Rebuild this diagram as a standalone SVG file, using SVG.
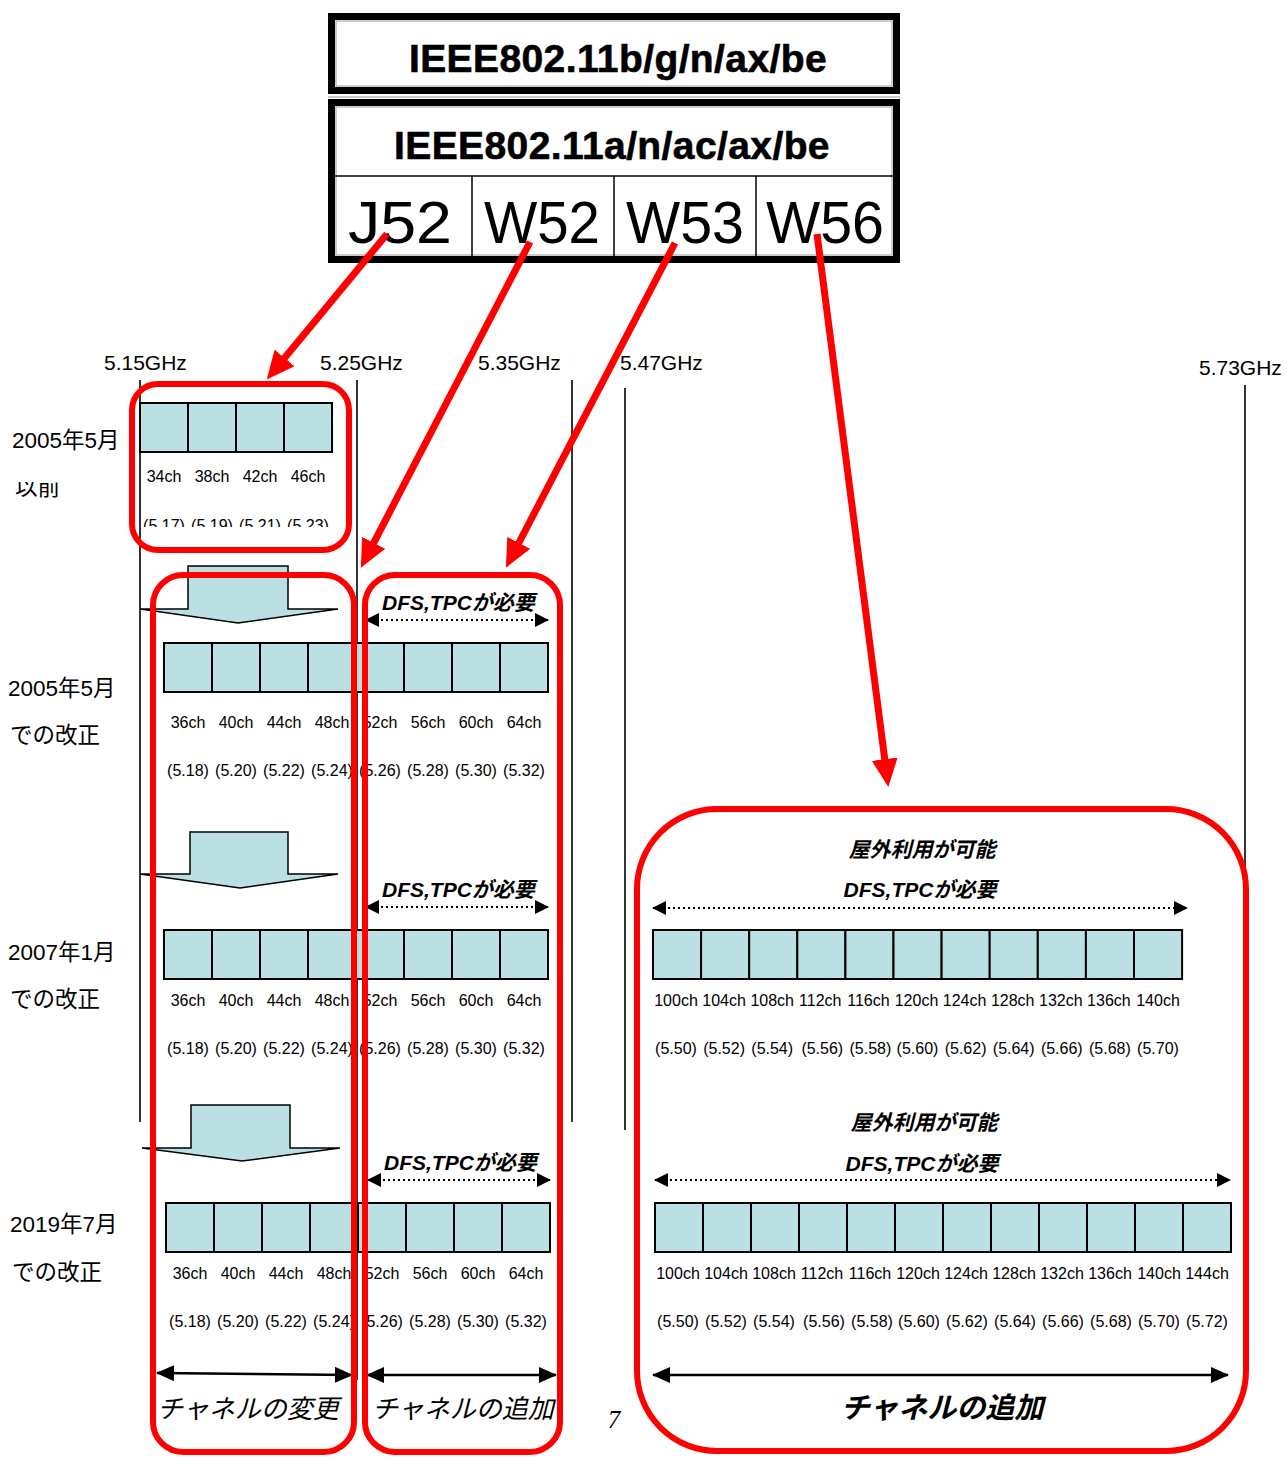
<svg xmlns="http://www.w3.org/2000/svg" width="1287" height="1457" viewBox="0 0 1287 1457">
<style>
text{font-family:"Liberation Sans","Noto Sans CJK JP",sans-serif;fill:#000}
.hd{font-size:39px;font-weight:bold;text-anchor:middle;stroke:#000;stroke-width:0.6;letter-spacing:0.4px}
.band{font-size:60px}
.ghz{font-size:21px}
.lbl{font-size:22.5px}
.ch{font-size:16px;text-anchor:middle}
.dfs{font-size:21px;font-weight:bold;font-style:italic}
.dfsc{font-size:21px;font-weight:bold;font-style:italic;text-anchor:middle}
.big{font-size:26px;font-style:italic}
.bigb{font-size:29px;font-weight:bold;font-style:italic;text-anchor:middle}
.box{fill:#bae0e3;stroke:#000;stroke-width:2}
.blk{fill:#bae0e3;stroke:#000;stroke-width:1.5}
.vl{stroke:#000;stroke-width:1.6;fill:none}
.dot{stroke:#000;stroke-width:2;stroke-dasharray:2 3;fill:none}
.sol{stroke:#000;stroke-width:2.5;fill:none}
.red{fill:none;stroke:#ff0000;stroke-width:6}
.rarr{stroke:#ff0000;stroke-width:7;fill:none}
</style>
<defs>
<marker id="ah" markerUnits="userSpaceOnUse" markerWidth="14" markerHeight="14" refX="13" refY="7" orient="auto-start-reverse"><path d="M0,0 L14,7 L0,14 z" fill="#000"/></marker>
<marker id="ahb" markerUnits="userSpaceOnUse" markerWidth="18" markerHeight="16" refX="17" refY="8" orient="auto-start-reverse"><path d="M0,0 L18,8 L0,16 z" fill="#000"/></marker>
<marker id="rh" markerUnits="userSpaceOnUse" markerWidth="28" markerHeight="26" refX="2" refY="13" orient="auto"><path d="M0,0 L28,13 L0,26 z" fill="#ff0000"/></marker>
<clipPath id="clipTop"><rect x="0" y="482" width="120" height="30"/></clipPath>
<clipPath id="clipBot"><rect x="130" y="500" width="220" height="27"/></clipPath>
</defs>

<g id="header">
<rect x="331.5" y="16.5" width="565" height="74" fill="#fff" stroke="#000" stroke-width="7"/>
<rect x="336" y="21" width="556" height="65" fill="none" stroke="#999" stroke-width="1"/>
<text class="hd" x="618" y="72">IEEE802.11b/g/n/ax/be</text>
<line x1="328" y1="97" x2="900" y2="97" stroke="#bbb" stroke-width="1.5"/>
<rect x="331.5" y="102.5" width="565" height="157" fill="#fff" stroke="#000" stroke-width="7"/>
<rect x="336" y="107" width="556" height="148" fill="none" stroke="#999" stroke-width="1"/>
<text class="hd" x="612" y="159">IEEE802.11a/n/ac/ax/be</text>
<line x1="335" y1="176" x2="896" y2="176" stroke="#000" stroke-width="1.5"/>
<line x1="472" y1="176" x2="472" y2="257" stroke="#000" stroke-width="1.5"/>
<line x1="614" y1="176" x2="614" y2="257" stroke="#000" stroke-width="1.5"/>
<line x1="756" y1="176" x2="756" y2="257" stroke="#000" stroke-width="1.5"/>
<text class="band" x="348" y="243" textLength="104" lengthAdjust="spacingAndGlyphs">J52</text>
<text class="band" x="484" y="243" textLength="116" lengthAdjust="spacingAndGlyphs">W52</text>
<text class="band" x="626" y="243" textLength="118" lengthAdjust="spacingAndGlyphs">W53</text>
<text class="band" x="766" y="243" textLength="118" lengthAdjust="spacingAndGlyphs">W56</text>
</g>

<g id="freq-axis">
<text class="ghz" x="104" y="370">5.15GHz</text>
<text class="ghz" x="320" y="370">5.25GHz</text>
<text class="ghz" x="478" y="370">5.35GHz</text>
<text class="ghz" x="620" y="370">5.47GHz</text>
<text class="ghz" x="1199" y="375">5.73GHz</text>
<line class="vl" x1="140" y1="380" x2="140" y2="1122"/>
<line class="vl" x1="357" y1="380" x2="357" y2="1380"/>
<line class="vl" x1="572" y1="380" x2="572" y2="1122"/>
<line class="vl" x1="625" y1="388" x2="625" y2="1130"/>
<line class="vl" x1="1245" y1="385" x2="1245" y2="1130"/>
</g>

<g id="row-labels">
<text class="lbl" x="12" y="448">2005年5月</text>
<g clip-path="url(#clipTop)"><text class="lbl" x="15" y="495">以前</text></g>
<text class="lbl" x="8" y="696">2005年5月</text>
<text class="lbl" x="10" y="743">での改正</text>
<text class="lbl" x="8" y="960">2007年1月</text>
<text class="lbl" x="10" y="1007">での改正</text>
<text class="lbl" x="10" y="1232">2019年7月</text>
<text class="lbl" x="12" y="1280">での改正</text>
</g>

<g id="block-before-2005">
<rect class="box" x="140" y="403" width="48" height="49"/>
<rect class="box" x="188" y="403" width="48" height="49"/>
<rect class="box" x="236" y="403" width="48" height="49"/>
<rect class="box" x="284" y="403" width="48" height="49"/>
<text class="ch" x="164" y="482">34ch</text>
<text class="ch" x="212" y="482">38ch</text>
<text class="ch" x="260" y="482">42ch</text>
<text class="ch" x="308" y="482">46ch</text>
<g clip-path="url(#clipBot)">
<text class="ch" x="164" y="531">(5.17)</text>
<text class="ch" x="212" y="531">(5.19)</text>
<text class="ch" x="260" y="531">(5.21)</text>
<text class="ch" x="308" y="531">(5.23)</text>
</g>
</g>

<g id="down-arrows">
<polygon class="blk" points="188,566 288,566 288,609 338,609 238,623 140,609 188,609"/>
<polygon class="blk" points="190,832 288,832 288,874 338,874 240,888 140,874 190,874"/>
<polygon class="blk" points="191,1105 290,1105 290,1148 340,1148 242,1161 142,1148 191,1148"/>
</g>

<g id="row-2005">
<rect class="box" x="164" y="643" width="48" height="49"/>
<rect class="box" x="212" y="643" width="48" height="49"/>
<rect class="box" x="260" y="643" width="48" height="49"/>
<rect class="box" x="308" y="643" width="48" height="49"/>
<rect class="box" x="356" y="643" width="48" height="49"/>
<rect class="box" x="404" y="643" width="48" height="49"/>
<rect class="box" x="452" y="643" width="48" height="49"/>
<rect class="box" x="500" y="643" width="48" height="49"/>
<text class="ch" x="188" y="728">36ch</text><text class="ch" x="236" y="728">40ch</text><text class="ch" x="284" y="728">44ch</text><text class="ch" x="332" y="728">48ch</text>
<text class="ch" x="380" y="728">52ch</text><text class="ch" x="428" y="728">56ch</text><text class="ch" x="476" y="728">60ch</text><text class="ch" x="524" y="728">64ch</text>
<text class="ch" x="188" y="776">(5.18)</text><text class="ch" x="236" y="776">(5.20)</text><text class="ch" x="284" y="776">(5.22)</text><text class="ch" x="332" y="776">(5.24)</text>
<text class="ch" x="380" y="776">(5.26)</text><text class="ch" x="428" y="776">(5.28)</text><text class="ch" x="476" y="776">(5.30)</text><text class="ch" x="524" y="776">(5.32)</text>
<text class="dfs" x="382" y="610">DFS,TPCが必要</text>
</g>

<g id="row-2007">
<rect class="box" x="164" y="930" width="48" height="49"/>
<rect class="box" x="212" y="930" width="48" height="49"/>
<rect class="box" x="260" y="930" width="48" height="49"/>
<rect class="box" x="308" y="930" width="48" height="49"/>
<rect class="box" x="356" y="930" width="48" height="49"/>
<rect class="box" x="404" y="930" width="48" height="49"/>
<rect class="box" x="452" y="930" width="48" height="49"/>
<rect class="box" x="500" y="930" width="48" height="49"/>
<text class="ch" x="188" y="1006">36ch</text><text class="ch" x="236" y="1006">40ch</text><text class="ch" x="284" y="1006">44ch</text><text class="ch" x="332" y="1006">48ch</text>
<text class="ch" x="380" y="1006">52ch</text><text class="ch" x="428" y="1006">56ch</text><text class="ch" x="476" y="1006">60ch</text><text class="ch" x="524" y="1006">64ch</text>
<text class="ch" x="188" y="1054">(5.18)</text><text class="ch" x="236" y="1054">(5.20)</text><text class="ch" x="284" y="1054">(5.22)</text><text class="ch" x="332" y="1054">(5.24)</text>
<text class="ch" x="380" y="1054">(5.26)</text><text class="ch" x="428" y="1054">(5.28)</text><text class="ch" x="476" y="1054">(5.30)</text><text class="ch" x="524" y="1054">(5.32)</text>
<text class="dfs" x="382" y="897">DFS,TPCが必要</text>
</g>

<g id="row-2019">
<rect class="box" x="166" y="1203" width="48" height="49"/>
<rect class="box" x="214" y="1203" width="48" height="49"/>
<rect class="box" x="262" y="1203" width="48" height="49"/>
<rect class="box" x="310" y="1203" width="48" height="49"/>
<rect class="box" x="358" y="1203" width="48" height="49"/>
<rect class="box" x="406" y="1203" width="48" height="49"/>
<rect class="box" x="454" y="1203" width="48" height="49"/>
<rect class="box" x="502" y="1203" width="48" height="49"/>
<text class="ch" x="190" y="1279">36ch</text><text class="ch" x="238" y="1279">40ch</text><text class="ch" x="286" y="1279">44ch</text><text class="ch" x="334" y="1279">48ch</text>
<text class="ch" x="382" y="1279">52ch</text><text class="ch" x="430" y="1279">56ch</text><text class="ch" x="478" y="1279">60ch</text><text class="ch" x="526" y="1279">64ch</text>
<text class="ch" x="190" y="1327">(5.18)</text><text class="ch" x="238" y="1327">(5.20)</text><text class="ch" x="286" y="1327">(5.22)</text><text class="ch" x="334" y="1327">(5.24)</text>
<text class="ch" x="382" y="1327">(5.26)</text><text class="ch" x="430" y="1327">(5.28)</text><text class="ch" x="478" y="1327">(5.30)</text><text class="ch" x="526" y="1327">(5.32)</text>
<text class="dfs" x="384" y="1170">DFS,TPCが必要</text>
<text class="big" x="157" y="1418">チャネルの変更</text>
<text class="big" x="372" y="1418">チャネルの追加</text>
</g>

<g id="w56-2007">
<text class="dfsc" x="922" y="857">屋外利用が可能</text>
<text class="dfsc" x="920" y="897">DFS,TPCが必要</text>
<rect class="box" x="653" y="930" width="48.1" height="49"/>
<rect class="box" x="701.1" y="930" width="48.1" height="49"/>
<rect class="box" x="749.2" y="930" width="48.1" height="49"/>
<rect class="box" x="797.3" y="930" width="48.1" height="49"/>
<rect class="box" x="845.4" y="930" width="48.1" height="49"/>
<rect class="box" x="893.5" y="930" width="48.1" height="49"/>
<rect class="box" x="941.6" y="930" width="48.1" height="49"/>
<rect class="box" x="989.7" y="930" width="48.1" height="49"/>
<rect class="box" x="1037.8" y="930" width="48.1" height="49"/>
<rect class="box" x="1085.9" y="930" width="48.1" height="49"/>
<rect class="box" x="1134" y="930" width="48.1" height="49"/>
<text class="ch" x="676" y="1006">100ch</text><text class="ch" x="724.1" y="1006">104ch</text><text class="ch" x="772.2" y="1006">108ch</text><text class="ch" x="820.3" y="1006">112ch</text>
<text class="ch" x="868.4" y="1006">116ch</text><text class="ch" x="916.5" y="1006">120ch</text><text class="ch" x="964.6" y="1006">124ch</text><text class="ch" x="1012.7" y="1006">128ch</text>
<text class="ch" x="1060.8" y="1006">132ch</text><text class="ch" x="1108.9" y="1006">136ch</text><text class="ch" x="1158" y="1006">140ch</text>
<text class="ch" x="676" y="1054">(5.50)</text><text class="ch" x="724.1" y="1054">(5.52)</text><text class="ch" x="772.2" y="1054">(5.54)</text><text class="ch" x="822.3" y="1054">(5.56)</text>
<text class="ch" x="870.4" y="1054">(5.58)</text><text class="ch" x="917.5" y="1054">(5.60)</text><text class="ch" x="965.6" y="1054">(5.62)</text><text class="ch" x="1013.7" y="1054">(5.64)</text>
<text class="ch" x="1061.8" y="1054">(5.66)</text><text class="ch" x="1109.9" y="1054">(5.68)</text><text class="ch" x="1158" y="1054">(5.70)</text>
</g>

<g id="w56-2019">
<text class="dfsc" x="924" y="1130">屋外利用が可能</text>
<text class="dfsc" x="922" y="1171">DFS,TPCが必要</text>
<rect class="box" x="655" y="1203" width="48" height="49"/>
<rect class="box" x="703" y="1203" width="48" height="49"/>
<rect class="box" x="751" y="1203" width="48" height="49"/>
<rect class="box" x="799" y="1203" width="48" height="49"/>
<rect class="box" x="847" y="1203" width="48" height="49"/>
<rect class="box" x="895" y="1203" width="48" height="49"/>
<rect class="box" x="943" y="1203" width="48" height="49"/>
<rect class="box" x="991" y="1203" width="48" height="49"/>
<rect class="box" x="1039" y="1203" width="48" height="49"/>
<rect class="box" x="1087" y="1203" width="48" height="49"/>
<rect class="box" x="1135" y="1203" width="48" height="49"/>
<rect class="box" x="1183" y="1203" width="48" height="49"/>
<text class="ch" x="678" y="1279">100ch</text><text class="ch" x="726" y="1279">104ch</text><text class="ch" x="774" y="1279">108ch</text><text class="ch" x="822" y="1279">112ch</text>
<text class="ch" x="870" y="1279">116ch</text><text class="ch" x="918" y="1279">120ch</text><text class="ch" x="966" y="1279">124ch</text><text class="ch" x="1014" y="1279">128ch</text>
<text class="ch" x="1062" y="1279">132ch</text><text class="ch" x="1110" y="1279">136ch</text><text class="ch" x="1159" y="1279">140ch</text><text class="ch" x="1207" y="1279">144ch</text>
<text class="ch" x="678" y="1327">(5.50)</text><text class="ch" x="726" y="1327">(5.52)</text><text class="ch" x="774" y="1327">(5.54)</text><text class="ch" x="824" y="1327">(5.56)</text>
<text class="ch" x="872" y="1327">(5.58)</text><text class="ch" x="919" y="1327">(5.60)</text><text class="ch" x="967" y="1327">(5.62)</text><text class="ch" x="1015" y="1327">(5.64)</text>
<text class="ch" x="1063" y="1327">(5.66)</text><text class="ch" x="1111" y="1327">(5.68)</text><text class="ch" x="1159" y="1327">(5.70)</text><text class="ch" x="1207" y="1327">(5.72)</text>
<text class="bigb" x="942" y="1418">チャネルの追加</text>
</g>

<text x="614" y="1428" style="font-family:'Liberation Serif',serif;font-size:25px;font-style:italic;text-anchor:middle">7</text>

<g id="connectors">
<line class="dot" x1="366" y1="620" x2="548" y2="620" marker-start="url(#ah)" marker-end="url(#ah)"/>
<line class="dot" x1="366" y1="907" x2="548" y2="907" marker-start="url(#ah)" marker-end="url(#ah)"/>
<line class="dot" x1="368" y1="1180" x2="550" y2="1180" marker-start="url(#ah)" marker-end="url(#ah)"/>
<line class="dot" x1="653" y1="908" x2="1187" y2="908" marker-start="url(#ah)" marker-end="url(#ah)"/>
<line class="dot" x1="655" y1="1180" x2="1230" y2="1180" marker-start="url(#ah)" marker-end="url(#ah)"/>
<line class="sol" x1="157" y1="1373" x2="352" y2="1375" marker-start="url(#ahb)" marker-end="url(#ahb)"/>
<line class="sol" x1="367" y1="1375" x2="556" y2="1375" marker-start="url(#ahb)" marker-end="url(#ahb)"/>
<line class="sol" x1="653" y1="1375" x2="1228" y2="1375" marker-start="url(#ahb)" marker-end="url(#ahb)"/>
</g>

<g id="highlight-boxes">
<rect class="red" x="132" y="384" width="217" height="166" rx="26"/>
<rect class="red" x="153" y="575" width="201" height="877" rx="30"/>
<rect class="red" x="365" y="575" width="195" height="877" rx="30"/>
<rect class="red" x="637" y="809" width="609" height="642" rx="80"/>
</g>

<g id="band-arrows">
<line class="rarr" x1="387" y1="234" x2="283.3" y2="359.5" marker-end="url(#rh)"/>
<line class="rarr" x1="530" y1="242" x2="372.8" y2="544.6" marker-end="url(#rh)"/>
<line class="rarr" x1="675" y1="243" x2="517.9" y2="544.6" marker-end="url(#rh)"/>
<line class="rarr" x1="817" y1="234" x2="885" y2="761.2" marker-end="url(#rh)"/>
</g>
</svg>
